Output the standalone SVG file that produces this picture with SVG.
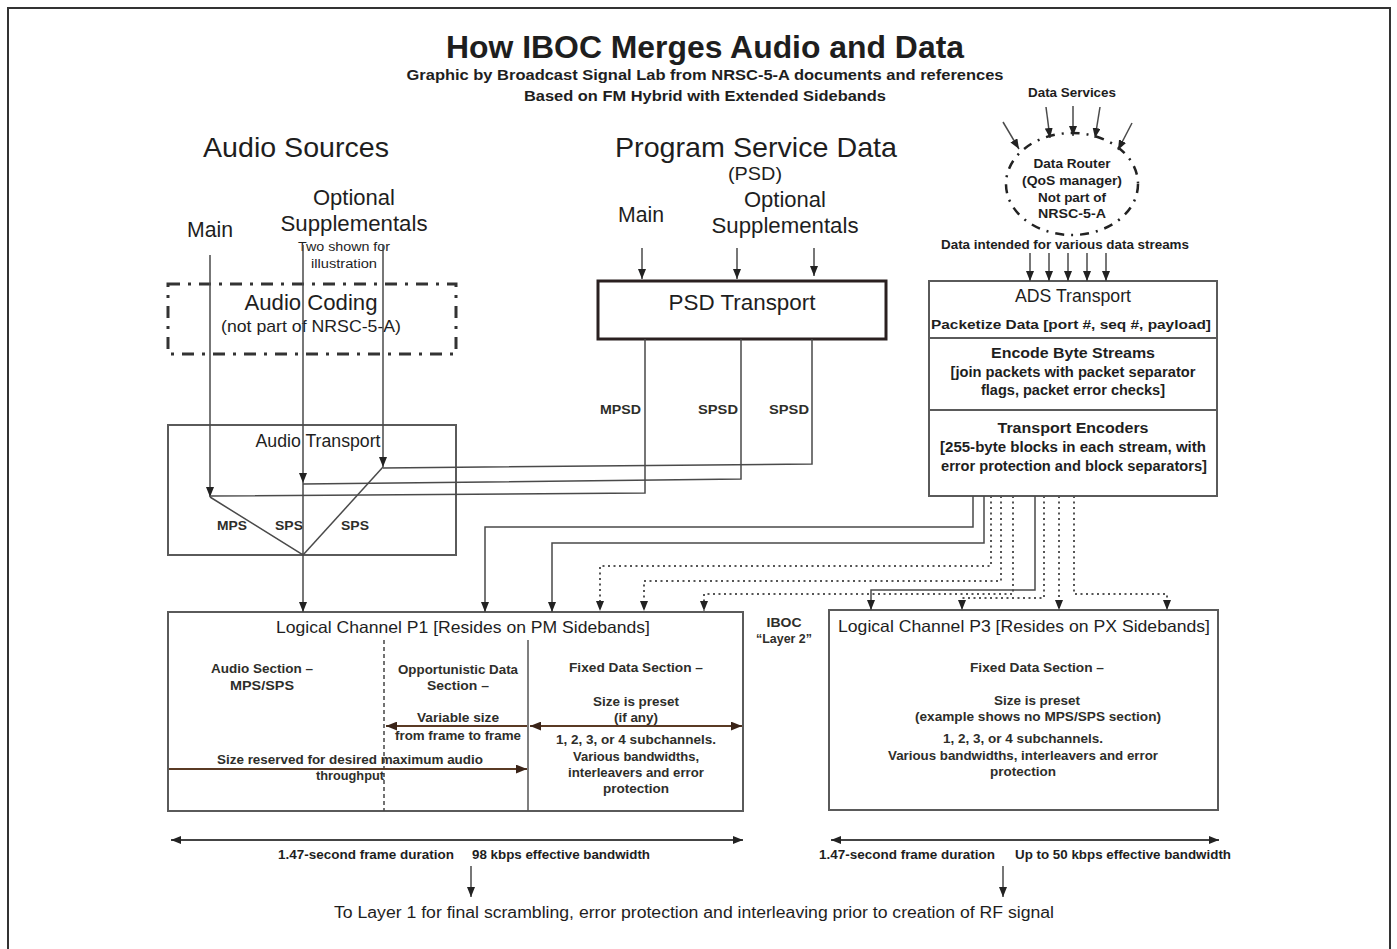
<svg xmlns="http://www.w3.org/2000/svg" width="1397" height="949" viewBox="0 0 1397 949">
<defs>
<marker id="ah" viewBox="0 0 10 8" refX="10" refY="4" markerWidth="10" markerHeight="8" markerUnits="userSpaceOnUse" orient="auto-start-reverse"><path d="M0,0 L10,4 L0,8 z" fill="#222"/></marker>
<marker id="ahb" viewBox="0 0 10 8" refX="10" refY="4" markerWidth="11" markerHeight="9" markerUnits="userSpaceOnUse" orient="auto-start-reverse"><path d="M0,0 L10,4 L0,8 z" fill="#3a2418"/></marker>
<style>
text{font-family:"Liberation Sans",Arial,sans-serif;fill:#1e1e1e}
.b{font-weight:bold}
.c{text-anchor:middle}
.e{text-anchor:end}
.s{font-size:13px;font-weight:bold;fill:#2e2e2a}
.box{fill:none;stroke:#5a5a5a;stroke-width:2}
.ln{fill:none;stroke:#4a4a4a;stroke-width:1.5}
.dt{fill:none;stroke:#555;stroke-width:2;stroke-dasharray:2 3.5}
.ar{marker-end:url(#ah)}
</style>
</defs>
<rect x="0" y="0" width="1397" height="949" fill="#fff"/>
<rect x="8" y="8" width="1382" height="960" fill="none" stroke="#333" stroke-width="2"/>

<g id="title">
<text class="b c" x="705" y="58" font-size="31" textLength="518" lengthAdjust="spacingAndGlyphs">How IBOC Merges Audio and Data</text>
<text class="b c" x="705" y="80" font-size="14" fill="#333" textLength="597" lengthAdjust="spacingAndGlyphs">Graphic by Broadcast Signal Lab from NRSC-5-A documents and references</text>
<text class="b c" x="705" y="101" font-size="14" textLength="362" lengthAdjust="spacingAndGlyphs">Based on FM Hybrid with Extended Sidebands</text>
</g>

<g id="audio-sources">
<text class="c" x="296" y="157" font-size="28" textLength="186" lengthAdjust="spacingAndGlyphs">Audio Sources</text>
<text class="c" x="210" y="237" font-size="21.5" textLength="46" lengthAdjust="spacingAndGlyphs">Main</text>
<text class="c" x="354" y="205" font-size="22" textLength="82" lengthAdjust="spacingAndGlyphs">Optional</text>
<text class="c" x="354" y="231" font-size="22" textLength="147" lengthAdjust="spacingAndGlyphs">Supplementals</text>
<text class="c" x="344" y="251" font-size="12.5" fill="#444" textLength="92" lengthAdjust="spacingAndGlyphs">Two shown for</text>
<text class="c" x="344" y="268" font-size="12.5" fill="#444" textLength="66" lengthAdjust="spacingAndGlyphs">illustration</text>
</g>

<g id="audio-coding">
<rect x="168" y="284" width="288" height="70" fill="none" stroke="#333" stroke-width="3" stroke-dasharray="12 8 3 8"/>
<text class="c" x="311" y="310" font-size="22" textLength="133" lengthAdjust="spacingAndGlyphs">Audio Coding</text>
<text class="c" x="311" y="332" font-size="17" textLength="180" lengthAdjust="spacingAndGlyphs">(not part of NRSC-5-A)</text>
</g>

<g id="audio-transport">
<rect class="box" x="168" y="425" width="288" height="130"/>
<text class="c" x="318" y="447" font-size="17.5" textLength="125" lengthAdjust="spacingAndGlyphs">Audio Transport</text>
<text class="s c" x="232" y="530" textLength="30" lengthAdjust="spacingAndGlyphs">MPS</text>
<text class="s c" x="289" y="530" textLength="28" lengthAdjust="spacingAndGlyphs">SPS</text>
<text class="s c" x="355" y="530" textLength="28" lengthAdjust="spacingAndGlyphs">SPS</text>
</g>

<g id="psd">
<text class="c" x="756" y="157" font-size="28" fill="#2a1414" textLength="282" lengthAdjust="spacingAndGlyphs">Program Service Data</text>
<text class="c" x="755" y="180" font-size="18" textLength="54" lengthAdjust="spacingAndGlyphs">(PSD)</text>
<text class="c" x="641" y="222" font-size="21.5" textLength="46" lengthAdjust="spacingAndGlyphs">Main</text>
<text class="c" x="785" y="207" font-size="22" textLength="82" lengthAdjust="spacingAndGlyphs">Optional</text>
<text class="c" x="785" y="233" font-size="22" textLength="147" lengthAdjust="spacingAndGlyphs">Supplementals</text>
</g>

<g id="psd-transport">
<rect x="598" y="281" width="288" height="58" fill="none" stroke="#2a2020" stroke-width="3"/>
<text class="c" x="742" y="310" font-size="22" textLength="147" lengthAdjust="spacingAndGlyphs">PSD Transport</text>
<text class="s e" x="641" y="414" fill="#5a1a2a" textLength="41" lengthAdjust="spacingAndGlyphs">MPSD</text>
<text class="s e" x="738" y="414" fill="#5a3a1a" textLength="40" lengthAdjust="spacingAndGlyphs">SPSD</text>
<text class="s e" x="809" y="414" fill="#5a3a1a" textLength="40" lengthAdjust="spacingAndGlyphs">SPSD</text>
</g>

<g id="data-router">
<text class="b c" x="1072" y="97" font-size="12.5" fill="#4a4a2a" textLength="88" lengthAdjust="spacingAndGlyphs">Data Services</text>
<ellipse cx="1072" cy="184" rx="66" ry="51" fill="none" stroke="#222" stroke-width="2.5" stroke-dasharray="9 7 2 7"/>
<text class="b c" x="1072" y="168" font-size="13" fill="#4a2a1a" textLength="77" lengthAdjust="spacingAndGlyphs">Data Router</text>
<text class="b c" x="1072" y="185" font-size="13" fill="#3a3a2a" textLength="100" lengthAdjust="spacingAndGlyphs">(QoS manager)</text>
<text class="b c" x="1072" y="202" font-size="13" fill="#2e2e1e" textLength="68" lengthAdjust="spacingAndGlyphs">Not part of</text>
<text class="b c" x="1072" y="218" font-size="13" textLength="68" lengthAdjust="spacingAndGlyphs">NRSC-5-A</text>
<text class="b c" x="1065" y="249" font-size="12.5" fill="#3a3a2a" textLength="248" lengthAdjust="spacingAndGlyphs">Data intended for various data streams</text>
</g>

<g id="ads-transport">
<rect class="box" x="929" y="281" width="288" height="215"/>
<line x1="929" y1="338" x2="1217" y2="338" stroke="#5a5a5a" stroke-width="2"/>
<line x1="929" y1="410" x2="1217" y2="410" stroke="#5a5a5a" stroke-width="2"/>
<text class="c" x="1073" y="302" font-size="17.5" textLength="116" lengthAdjust="spacingAndGlyphs">ADS Transport</text>
<text class="b c" x="1071" y="329" font-size="13.5" textLength="280" lengthAdjust="spacingAndGlyphs">Packetize Data [port #, seq #, payload]</text>
<text class="b c" x="1073" y="358" font-size="14" textLength="164" lengthAdjust="spacingAndGlyphs">Encode Byte Streams</text>
<text class="b c" x="1073" y="377" font-size="14" fill="#333" textLength="245" lengthAdjust="spacingAndGlyphs">[join packets with packet separator</text>
<text class="b c" x="1073" y="395" font-size="14" fill="#333" textLength="184" lengthAdjust="spacingAndGlyphs">flags, packet error checks]</text>
<text class="b c" x="1073" y="433" font-size="14" fill="#3a1a1a" textLength="151" lengthAdjust="spacingAndGlyphs">Transport Encoders</text>
<text class="b c" x="1073" y="452" font-size="14" fill="#333" textLength="266" lengthAdjust="spacingAndGlyphs">[255-byte blocks in each stream, with</text>
<text class="b c" x="1074" y="471" font-size="14" fill="#333" textLength="266" lengthAdjust="spacingAndGlyphs">error protection and block separators]</text>
</g>

<g id="layer2-label">
<text class="s c" x="784" y="627" textLength="35" lengthAdjust="spacingAndGlyphs">IBOC</text>
<text class="s c" x="784" y="643" textLength="56" lengthAdjust="spacingAndGlyphs">“Layer 2”</text>
</g>

<g id="logical-channel-p1">
<rect class="box" x="168" y="612" width="575" height="199"/>
<line x1="384" y1="640" x2="384" y2="811" stroke="#444" stroke-width="1.5" stroke-dasharray="4 3"/>
<line x1="528" y1="640" x2="528" y2="811" stroke="#555" stroke-width="1.5"/>
<text class="c" x="463" y="633" font-size="16.5" textLength="374" lengthAdjust="spacingAndGlyphs">Logical Channel P1 [Resides on PM Sidebands]</text>
<text class="s c" x="262" y="673" fill="#3a3a22" textLength="102" lengthAdjust="spacingAndGlyphs">Audio Section –</text>
<text class="s c" x="262" y="690" fill="#3a3a22" textLength="64" lengthAdjust="spacingAndGlyphs">MPS/SPS</text>
<text class="s c" x="458" y="674" textLength="120" lengthAdjust="spacingAndGlyphs">Opportunistic Data</text>
<text class="s c" x="458" y="690" textLength="62" lengthAdjust="spacingAndGlyphs">Section –</text>
<text class="s c" x="458" y="722" fill="#3a3a22" textLength="82" lengthAdjust="spacingAndGlyphs">Variable size</text>
<text class="s c" x="458" y="740" fill="#4a2a14" textLength="126" lengthAdjust="spacingAndGlyphs">from frame to frame</text>
<text class="s c" x="636" y="672" textLength="134" lengthAdjust="spacingAndGlyphs">Fixed Data Section –</text>
<text class="s c" x="636" y="706" fill="#4a2a2a" textLength="86" lengthAdjust="spacingAndGlyphs">Size is preset</text>
<text class="s c" x="636" y="722" fill="#4a2a14" textLength="44" lengthAdjust="spacingAndGlyphs">(if any)</text>
<text class="s c" x="636" y="744" textLength="160" lengthAdjust="spacingAndGlyphs">1, 2, 3, or 4 subchannels.</text>
<text class="s c" x="636" y="761" textLength="126" lengthAdjust="spacingAndGlyphs">Various bandwidths,</text>
<text class="s c" x="636" y="777" textLength="136" lengthAdjust="spacingAndGlyphs">interleavers and error</text>
<text class="s c" x="636" y="793" fill="#5a3a2a" textLength="66" lengthAdjust="spacingAndGlyphs">protection</text>
<text class="s c" x="350" y="764" textLength="266" lengthAdjust="spacingAndGlyphs">Size reserved for desired maximum audio</text>
<text class="s c" x="350" y="780" textLength="68" lengthAdjust="spacingAndGlyphs">throughput</text>
<line x1="527" y1="726" x2="386" y2="726" stroke="#5a3a24" stroke-width="2" marker-end="url(#ahb)"/>
<line x1="530" y1="726" x2="742" y2="726" stroke="#5a3a24" stroke-width="2" marker-start="url(#ahb)" marker-end="url(#ahb)"/>
<line x1="169" y1="769" x2="527" y2="769" stroke="#5a3a24" stroke-width="2" marker-end="url(#ahb)"/>
</g>

<g id="logical-channel-p3">
<rect class="box" x="829" y="610" width="389" height="200"/>
<text class="c" x="1024" y="632" font-size="16.5" textLength="372" lengthAdjust="spacingAndGlyphs">Logical Channel P3 [Resides on PX Sidebands]</text>
<text class="s c" x="1037" y="672" textLength="134" lengthAdjust="spacingAndGlyphs">Fixed Data Section –</text>
<text class="s c" x="1037" y="705" textLength="86" lengthAdjust="spacingAndGlyphs">Size is preset</text>
<text class="s c" x="1038" y="721" textLength="246" lengthAdjust="spacingAndGlyphs">(example shows no MPS/SPS section)</text>
<text class="s c" x="1023" y="743" textLength="160" lengthAdjust="spacingAndGlyphs">1, 2, 3, or 4 subchannels.</text>
<text class="s c" x="1023" y="760" textLength="270" lengthAdjust="spacingAndGlyphs">Various bandwidths, interleavers and error</text>
<text class="s c" x="1023" y="776" fill="#5a3a2a" textLength="66" lengthAdjust="spacingAndGlyphs">protection</text>
</g>

<g id="frame-notes">
<line x1="171" y1="840" x2="743" y2="840" stroke="#444" stroke-width="2" marker-start="url(#ah)" marker-end="url(#ah)"/>
<line x1="831" y1="840" x2="1219" y2="840" stroke="#444" stroke-width="2" marker-start="url(#ah)" marker-end="url(#ah)"/>
<text class="b c" x="366" y="859" font-size="12.5" fill="#3a3a22" textLength="176" lengthAdjust="spacingAndGlyphs">1.47-second frame duration</text>
<text class="b c" x="561" y="859" font-size="12.5" fill="#3a3a22" textLength="178" lengthAdjust="spacingAndGlyphs">98 kbps effective bandwidth</text>
<text class="b c" x="907" y="859" font-size="12.5" fill="#3a3a22" textLength="176" lengthAdjust="spacingAndGlyphs">1.47-second frame duration</text>
<text class="b c" x="1123" y="859" font-size="12.5" fill="#3a3a22" textLength="216" lengthAdjust="spacingAndGlyphs">Up to 50 kbps effective bandwidth</text>
<text class="c" x="694" y="918" font-size="16" textLength="720" lengthAdjust="spacingAndGlyphs">To Layer 1 for final scrambling, error protection and interleaving prior to creation of RF signal</text>
</g>

<g id="connectors">
<!-- audio sources -->
<line class="ln ar" x1="210" y1="255" x2="210" y2="497"/>
<line class="ln ar" x1="303" y1="245" x2="303" y2="483"/>
<line class="ln ar" x1="383" y1="245" x2="383" y2="467"/>
<polyline class="ln" points="210,497 303,555 303,483"/>
<line class="ln" x1="383" y1="467" x2="303" y2="555"/>
<line class="ln ar" x1="303" y1="555" x2="303" y2="612"/>
<!-- PSD -->
<line class="ln ar" x1="642" y1="248" x2="642" y2="279"/>
<line class="ln ar" x1="737" y1="248" x2="737" y2="279"/>
<line class="ln ar" x1="814" y1="248" x2="814" y2="276"/>
<polyline class="ln" points="645,339 645,493 210,496"/>
<polyline class="ln" points="741,339 741,479 303,484"/>
<polyline class="ln" points="812,339 812,464 383,468"/>
<!-- data services -->
<line class="ln ar" x1="1003" y1="122" x2="1019" y2="149" stroke-width="2"/>
<line class="ln ar" x1="1046" y1="107" x2="1050" y2="138" stroke-width="2"/>
<line class="ln ar" x1="1073" y1="106" x2="1073" y2="136" stroke-width="2"/>
<line class="ln ar" x1="1100" y1="107" x2="1095" y2="138" stroke-width="2"/>
<line class="ln ar" x1="1132" y1="123" x2="1118" y2="150" stroke-width="2"/>
<line class="ln ar" x1="1030" y1="253" x2="1030" y2="281"/>
<line class="ln ar" x1="1049" y1="253" x2="1049" y2="281"/>
<line class="ln ar" x1="1068" y1="253" x2="1068" y2="281"/>
<line class="ln ar" x1="1087" y1="253" x2="1087" y2="281"/>
<line class="ln ar" x1="1106" y1="253" x2="1106" y2="281"/>
<!-- ADS to P1 -->
<polyline class="ln ar" points="973,496 973,527 485,527 485,612"/>
<polyline class="ln ar" points="984,496 984,543 552,543 552,612"/>
<polyline class="dt ar" points="991,496 991,566 600,566 600,611"/>
<polyline class="dt ar" points="1001,496 1001,581 644,581 644,611"/>
<polyline class="dt ar" points="1013,496 1013,594 704,594 704,611"/>
<!-- ADS to P3 -->
<polyline class="ln ar" points="1035,496 1035,590 871,590 871,610"/>
<polyline class="dt ar" points="1044,496 1044,598 962,598 962,610"/>
<polyline class="dt ar" points="1059,496 1059,610"/>
<polyline class="dt ar" points="1074,496 1074,594 1167,594 1167,610"/>
<!-- to layer 1 -->
<line class="ln ar" x1="471" y1="866" x2="471" y2="897"/>
<line class="ln ar" x1="1003" y1="866" x2="1003" y2="897"/>
</g>
</svg>
